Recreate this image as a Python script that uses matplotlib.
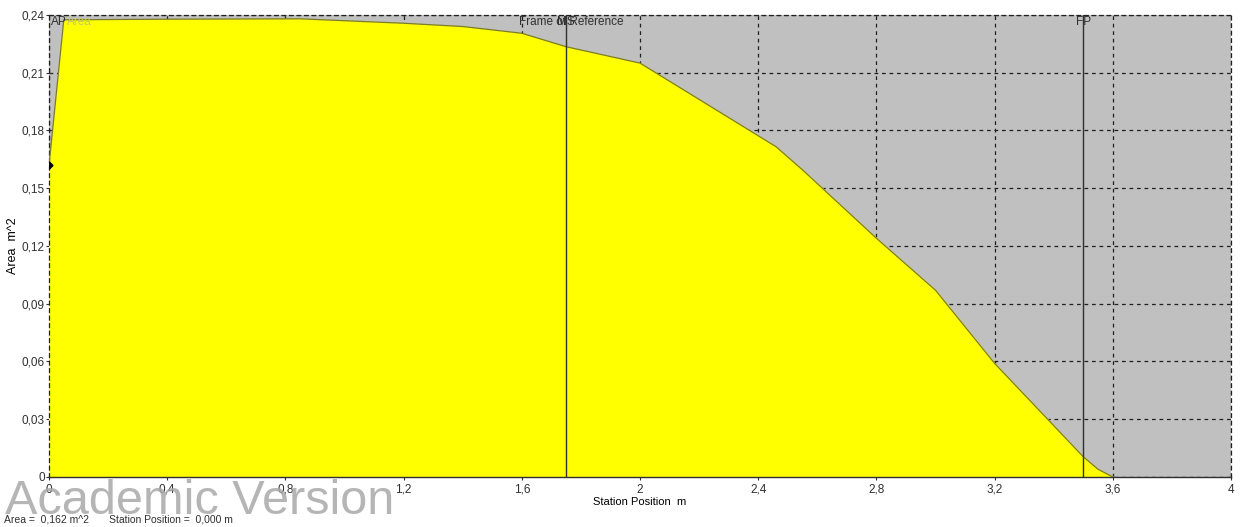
import matplotlib
matplotlib.use('Agg')
from matplotlib import pyplot as plt
from matplotlib.ticker import MultipleLocator, FuncFormatter

# Sectional area curve (station position m, area m^2)
stations = [0.0, 0.05, 0.4, 0.85, 1.2, 1.4, 1.6, 1.75, 2.0, 2.46, 2.55, 2.8, 3.0, 3.2, 3.5, 3.55, 3.6]
areas = [0.162, 0.2375, 0.2378, 0.238, 0.2357, 0.234, 0.2305, 0.2235, 0.215, 0.1716, 0.1595,
         0.124, 0.097, 0.059, 0.0105, 0.004, 0.0]

# Reference lines
markers = ['AP', 'MS', 'FP']
marker_pos = [0.0, 1.75, 3.5]

plt.rcParams['font.family'] = ['Liberation Sans', 'DejaVu Sans']

fig = plt.figure(figsize=(12.41, 5.27), dpi=100)
ax = fig.add_axes([0.0395, 0.0949, 0.9525, 0.8767])
ax.set_facecolor('#c0c0c0')

ax.set_xlim(0, 4)
ax.set_ylim(0, 0.24)

ax.set_axisbelow(True)
ax.grid(True, color='#202020', linestyle=(0, (3, 3)), linewidth=0.9)

ax.fill_between(stations, areas, color='#ffff00', zorder=2)
ax.plot(stations, areas, color='#7a7a30', linewidth=0.9, zorder=3)
ax.plot([stations[0]], [areas[0]], marker='D', color='black', markersize=3.5, zorder=5)

# vertical lines for midship / FP (AP sits on the left edge)
for pos in marker_pos[1:]:
    ax.axvline(pos, color='#303030', linewidth=1.0, zorder=4)

label_y = 0.2362
ax.text(0.06, label_y, 'Area', color='#c8c870', fontsize=8.5, va='center', ha='left', zorder=6)
ax.text(marker_pos[0] + 0.005, label_y, markers[0], color='#303030', fontsize=8.5,
        va='center', ha='left', zorder=6)
ax.text(1.592, label_y, 'Frame of Reference', color='#303030', fontsize=8.5,
        va='center', ha='left', zorder=6)
ax.text(marker_pos[1], label_y, markers[1], color='#303030', fontsize=8.5,
        va='center', ha='center', zorder=6)
ax.text(marker_pos[2], label_y, markers[2], color='#303030', fontsize=8.5,
        va='center', ha='center', zorder=6)

fmt = FuncFormatter(lambda v, p: ('%g' % round(v, 4)).replace('.', ','))
ax.xaxis.set_major_locator(MultipleLocator(0.4))
ax.yaxis.set_major_locator(MultipleLocator(0.03))
ax.xaxis.set_major_formatter(fmt)
ax.yaxis.set_major_formatter(fmt)
ax.tick_params(axis='both', labelsize=8.5, colors='#303030', length=4, width=0.8, direction='inout')
ax.tick_params(axis='x', pad=3)
ax.tick_params(axis='y', pad=1)

for side in ['left', 'top', 'right']:
    ax.spines[side].set_linestyle((0, (3, 3)))
    ax.spines[side].set_linewidth(0.9)
    ax.spines[side].set_color('#202020')
ax.spines['bottom'].set_color('#303030')
ax.spines['bottom'].set_linewidth(1.0)

ax.set_xlabel('Station Position  m', fontsize=8, labelpad=1)
ax.set_ylabel('Area  m^2', fontsize=9, labelpad=2)

fig.text(0.004, 0.024, 'Academic Version', fontsize=35, color='#a8a8a8', alpha=0.85,
         ha='left', va='baseline')
fig.text(0.003, 0.008, 'Area =  0,162 m^2       Station Position =  0,000 m', fontsize=7.5,
         color='#303030', ha='left', va='baseline')

fig.savefig('out.png', dpi=100)
